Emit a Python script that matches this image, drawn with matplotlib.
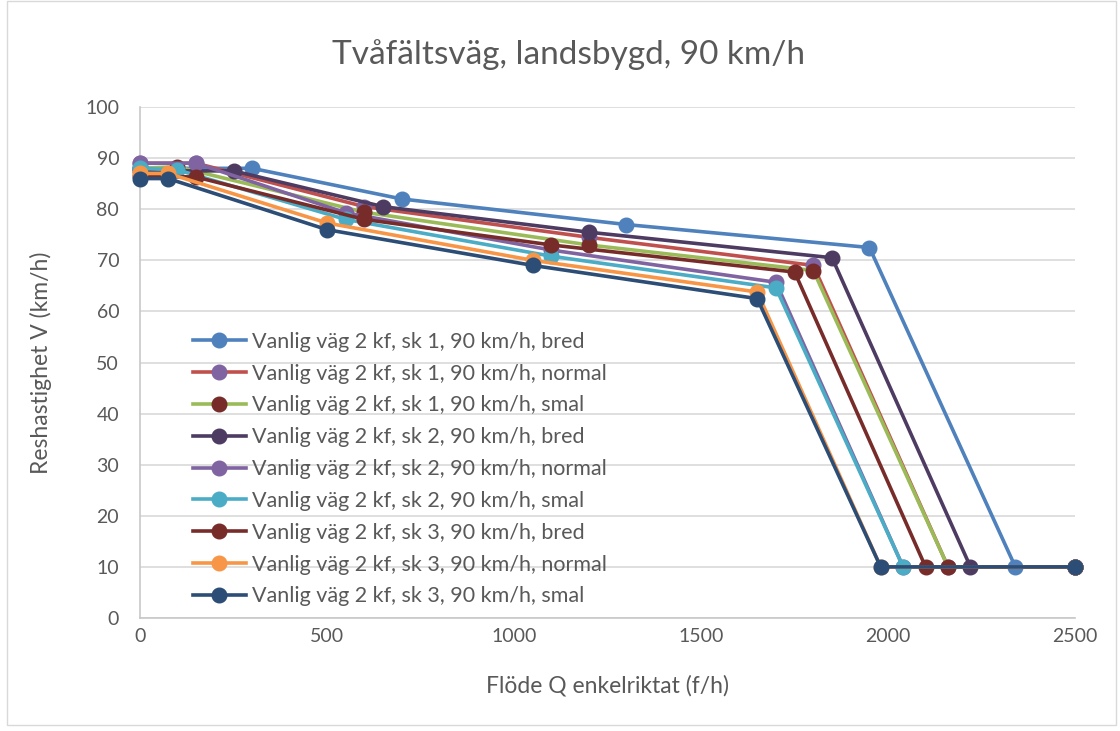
import matplotlib.pyplot as plt
from matplotlib.patches import Rectangle

plt.rcParams['font.family'] = ['Lato', 'DejaVu Sans']

# flöde Q (f/h) och reshastighet V (km/h) per serie
q_s1_bred = [0, 300, 700, 1300, 1950, 2340, 2500]
v_s1_bred = [88, 88, 82, 77, 72.5, 10, 10]
q_s1_normal = [0, 150, 600, 1200, 1800, 2160, 2500]
v_s1_normal = [89, 89, 80.5, 74.5, 69, 10, 10]
q_s1_smal = [0, 100, 600, 1200, 1800, 2160, 2500]
v_s1_smal = [88, 88.3, 79.4, 73, 68, 10, 10]
q_s2_bred = [0, 250, 650, 1200, 1850, 2220, 2500]
v_s2_bred = [87.5, 87.5, 80.5, 75.5, 70.5, 10, 10]
q_s2_normal = [0, 150, 550, 1100, 1700, 2040, 2500]
v_s2_normal = [89, 89, 79.3, 72, 65.7, 10, 10]
q_s2_smal = [0, 100, 550, 1100, 1700, 2040, 2500]
v_s2_smal = [88, 87.7, 78, 70.8, 64.6, 10, 10]
q_s3_bred = [0, 150, 600, 1100, 1750, 2100, 2500]
v_s3_bred = [86.5, 86.3, 78, 73, 67.7, 10, 10]
q_s3_normal = [0, 75, 500, 1050, 1650, 1980, 2500]
v_s3_normal = [87, 87, 77.3, 70, 63.8, 10, 10]
q_s3_smal = [0, 75, 500, 1050, 1650, 1980, 2500]
v_s3_smal = [86, 86, 76, 69, 62.5, 10, 10]

labels = [
    'Vanlig väg 2 kf, sk 1, 90 km/h, bred',
    'Vanlig väg 2 kf, sk 1, 90 km/h, normal',
    'Vanlig väg 2 kf, sk 1, 90 km/h, smal',
    'Vanlig väg 2 kf, sk 2, 90 km/h, bred',
    'Vanlig väg 2 kf, sk 2, 90 km/h, normal',
    'Vanlig väg 2 kf, sk 2, 90 km/h, smal',
    'Vanlig väg 2 kf, sk 3, 90 km/h, bred',
    'Vanlig väg 2 kf, sk 3, 90 km/h, normal',
    'Vanlig väg 2 kf, sk 3, 90 km/h, smal',
]
series = [
    (q_s1_bred, v_s1_bred), (q_s1_normal, v_s1_normal), (q_s1_smal, v_s1_smal),
    (q_s2_bred, v_s2_bred), (q_s2_normal, v_s2_normal), (q_s2_smal, v_s2_smal),
    (q_s3_bred, v_s3_bred), (q_s3_normal, v_s3_normal), (q_s3_smal, v_s3_smal),
]
line_colors = ['#4F81BD', '#C0504D', '#9BBB59', '#4D3B62', '#8064A2',
               '#4BACC6', '#772C2A', '#F79646', '#2C4D75']
marker_colors = ['#4F81BD', '#8064A2', '#772C2A', '#4D3B62', '#8064A2',
                 '#4BACC6', '#772C2A', '#F79646', '#2C4D75']

fig = plt.figure(figsize=(11.2, 7.31), dpi=100)
ax = fig.add_axes([0.125, 0.1546, 0.835, 0.699])

for (q, v), lab, lc, mc in zip(series, labels, line_colors, marker_colors):
    ax.plot(q, v, color=lc, lw=2.6, marker='o', markersize=10.5,
            markerfacecolor=mc, markeredgecolor=mc, label=lab, clip_on=False, zorder=3)

ax.set_xlim(0, 2500)
ax.set_ylim(0, 100)
ax.set_xticks(range(0, 2501, 500))
ax.set_yticks(range(0, 101, 10))
ax.grid(axis='y', color='#D9D9D9', lw=1.2)
ax.set_axisbelow(True)
for s in ['top', 'right']:
    ax.spines[s].set_visible(False)
for s in ['left', 'bottom']:
    ax.spines[s].set_color('#C8C8C8')
    ax.spines[s].set_linewidth(1.2)
ax.tick_params(length=0, labelsize=14, labelcolor='#595959')
ax.tick_params(axis='x', pad=7)
ax.tick_params(axis='y', pad=15)

fig.text(0.508, 0.925, 'Tvåfältsväg, landsbygd, 90 km/h', fontsize=24,
         color='#595959', ha='center', va='center')
ax.set_xlabel('Flöde Q enkelriktat (f/h)', fontsize=16.5, color='#595959', labelpad=22)
ax.set_ylabel('Reshastighet V (km/h)', fontsize=16.5, color='#595959', labelpad=24)

ax.legend(loc='upper left', bbox_to_anchor=(0.047, 0.577), frameon=False,
          fontsize=15.5, labelcolor='#595959', handlelength=2.5,
          labelspacing=0.55, handletextpad=0.25, borderaxespad=0)

fig.patches.append(Rectangle((0.006, 0.008), 0.99, 0.99, transform=fig.transFigure,
                             fill=False, edgecolor='#D9D9D9', lw=1))

fig.savefig('out.png', dpi=100)
